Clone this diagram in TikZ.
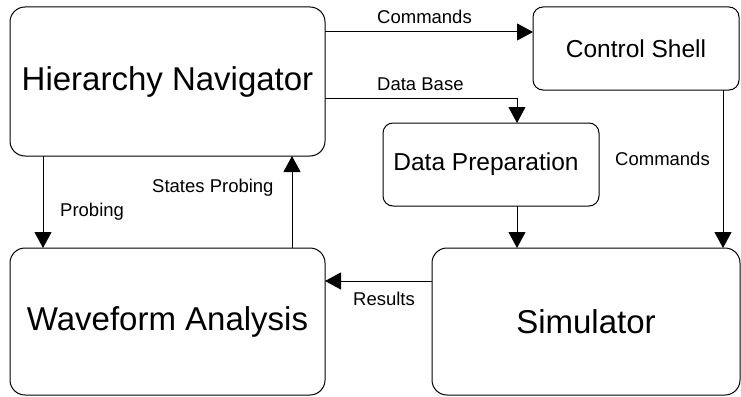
\documentclass[tikz,border=0pt]{standalone}
\usepackage{fontspec}
\setmainfont{Liberation Sans}
\usetikzlibrary{arrows.meta}
\tikzset{
  box/.style={draw, line width=1pt, rounded corners=#1, inner sep=0pt, outer sep=0pt, align=center},
  big/.style={font=\fontsize{33}{38}\selectfont},
  mid/.style={font=\fontsize{24.5}{28}\selectfont},
  lbl/.style={font=\fontsize{18.5}{21}\selectfont, inner sep=0pt, anchor=base west},
  arr/.style={line width=1pt, -{Triangle[length=16pt,width=17pt]}},
  ln/.style={line width=1pt}
}
\begin{document}
\begin{tikzpicture}[x=1pt,y=-1pt]
\useasboundingbox (0,0) rectangle (741,396);
\node[box=15pt, big, minimum width=315pt, minimum height=149pt] (hn) at (167.5,81.5) {Hierarchy Navigator};
\node[box=10pt, mid, minimum width=206pt, minimum height=83pt] (cs) at (636,48.5) {Control Shell};
\node[box=10pt, mid, minimum width=216pt, minimum height=83pt] (dp) at (491,164.5) {\hspace{-10pt}Data Preparation};
\node[box=15pt, big, minimum width=315pt, minimum height=147pt] (wa) at (167.5,321.5) {Waveform Analysis};
\node[box=15pt, big, minimum width=308pt, minimum height=147pt] (sim) at (586,321.5) {Simulator};

% connectors
\draw[arr] (hn.east |- 0,32) -- (cs.west |- 0,32);
\coordinate (db) at (517,98);
\draw[arr] (hn.east |- db) -- (db) -- (dp.north -| db);
\draw[arr] (hn.south -| 43,0) -- (wa.north -| 43,0);
\draw[arr] (wa.north -| 292,0) -- (hn.south -| 292,0);
\draw[arr] (dp.south -| db) -- (sim.north -| db);
\draw[arr] (cs.south -| 723,0) -- (sim.north -| 723,0);
\draw[arr] (sim.west |- 0,281) -- (wa.east |- 0,281);

% labels
\node[lbl] (l1) at (377,23.3) {Commands};
\node[lbl] (l2) at (377,90) {Data Base};
\node[lbl] (l3) at (60,216) {Probing};
\node[lbl] (l4) at (152,192) {States Probing};
\node[lbl] (l5) at (615,165) {Commands};
\node[lbl] (l6) at (353,305) {Results};
\end{tikzpicture}
\end{document}
